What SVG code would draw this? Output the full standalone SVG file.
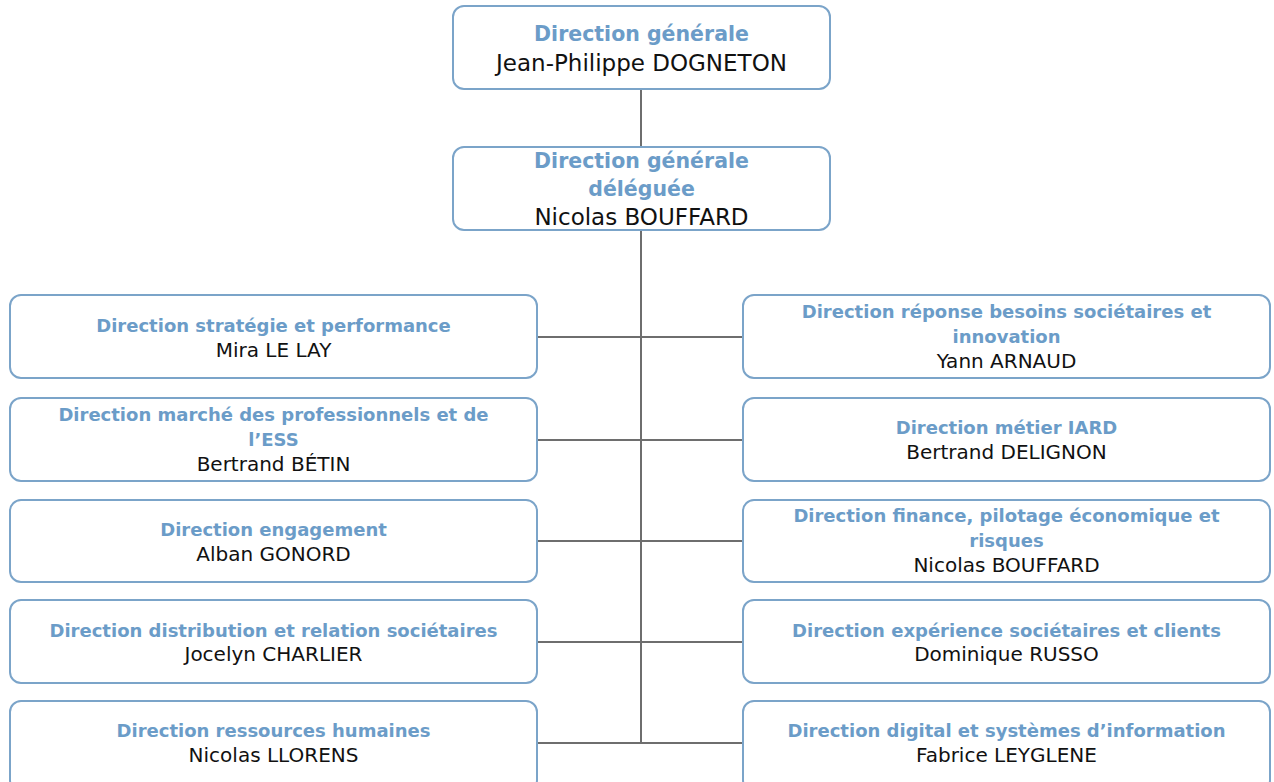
<svg xmlns="http://www.w3.org/2000/svg" width="1274" height="782" viewBox="0 0 1274 782">
<style>
.box{fill:#fff;stroke:#7ba4c9;stroke-width:2}
.t{font-family:"DejaVu Sans","Liberation Sans",sans-serif;font-weight:bold;fill:#6b9cc8;text-anchor:middle;font-size:18px}
.n{font-family:"DejaVu Sans","Liberation Sans",sans-serif;fill:#111;text-anchor:middle;font-size:20px}
.tb{font-size:20.5px}
.nb{font-size:23px}
.c{stroke:#6e6e6e;stroke-width:2;fill:none}
</style>
<rect width="1274" height="782" fill="#fff"/>
<g id="connectors">
<line class="c" x1="641" y1="89" x2="641" y2="147"/>
<line class="c" x1="641" y1="230" x2="641" y2="743"/>
<line class="c" x1="537" y1="337" x2="743" y2="337"/>
<line class="c" x1="537" y1="440" x2="743" y2="440"/>
<line class="c" x1="537" y1="541" x2="743" y2="541"/>
<line class="c" x1="537" y1="642" x2="743" y2="642"/>
<line class="c" x1="537" y1="743" x2="743" y2="743"/>
</g>
<g id="dg">
<rect class="box" x="453" y="6" width="377" height="83" rx="11"/>
<text class="t tb" x="641.5" y="41">Direction générale</text>
<text class="n nb" x="641.5" y="71">Jean-Philippe DOGNETON</text>
</g>
<g id="dgd">
<rect class="box" x="453" y="147" width="377" height="83" rx="11"/>
<text class="t tb" x="641.5" y="168">Direction générale</text>
<text class="t tb" x="641.5" y="196">déléguée</text>
<text class="n nb" x="641.5" y="225">Nicolas BOUFFARD</text>
</g>
<g id="strategie">
<rect class="box" x="10" y="295" width="527" height="83" rx="11"/>
<text class="t" x="273.5" y="332">Direction stratégie et performance</text>
<text class="n" x="273.5" y="357">Mira LE LAY</text>
</g>
<g id="marche">
<rect class="box" x="10" y="398" width="527" height="83" rx="11"/>
<text class="t" x="273.5" y="421">Direction marché des professionnels et de</text>
<text class="t" x="273.5" y="446">l’ESS</text>
<text class="n" x="273.5" y="471">Bertrand BÉTIN</text>
</g>
<g id="engagement">
<rect class="box" x="10" y="500" width="527" height="82" rx="11"/>
<text class="t" x="273.5" y="536">Direction engagement</text>
<text class="n" x="273.5" y="561">Alban GONORD</text>
</g>
<g id="distribution">
<rect class="box" x="10" y="600" width="527" height="83" rx="11"/>
<text class="t" x="273.5" y="637">Direction distribution et relation sociétaires</text>
<text class="n" x="273.5" y="661">Jocelyn CHARLIER</text>
</g>
<g id="rh">
<rect class="box" x="10" y="701" width="527" height="90" rx="11"/>
<text class="t" x="273.5" y="737">Direction ressources humaines</text>
<text class="n" x="273.5" y="762">Nicolas LLORENS</text>
</g>
<g id="reponse">
<rect class="box" x="743" y="295" width="527" height="83" rx="11"/>
<text class="t" x="1006.5" y="318">Direction réponse besoins sociétaires et</text>
<text class="t" x="1006.5" y="343">innovation</text>
<text class="n" x="1006.5" y="368">Yann ARNAUD</text>
</g>
<g id="iard">
<rect class="box" x="743" y="398" width="527" height="83" rx="11"/>
<text class="t" x="1006.5" y="434">Direction métier IARD</text>
<text class="n" x="1006.5" y="459">Bertrand DELIGNON</text>
</g>
<g id="finance">
<rect class="box" x="743" y="500" width="527" height="82" rx="11"/>
<text class="t" x="1006.5" y="522">Direction finance, pilotage économique et</text>
<text class="t" x="1006.5" y="547">risques</text>
<text class="n" x="1006.5" y="572">Nicolas BOUFFARD</text>
</g>
<g id="experience">
<rect class="box" x="743" y="600" width="527" height="83" rx="11"/>
<text class="t" x="1006.5" y="637">Direction expérience sociétaires et clients</text>
<text class="n" x="1006.5" y="661">Dominique RUSSO</text>
</g>
<g id="digital">
<rect class="box" x="743" y="701" width="527" height="90" rx="11"/>
<text class="t" x="1006.5" y="737">Direction digital et systèmes d’information</text>
<text class="n" x="1006.5" y="762">Fabrice LEYGLENE</text>
</g>
</svg>
